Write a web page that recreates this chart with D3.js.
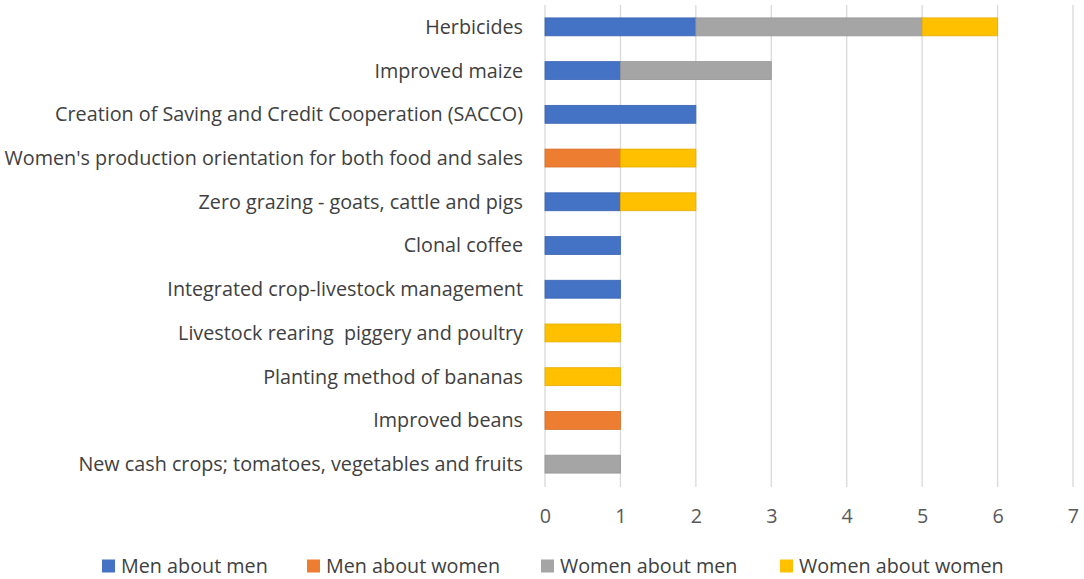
<!DOCTYPE html>
<html><head><meta charset="utf-8">
<script src="https://cdn.jsdelivr.net/npm/d3@7/dist/d3.min.js"></script>
<style>body{margin:0;background:#fff}svg{display:block}text{white-space:pre}</style>
</head><body>
<svg id="c" width="1084" height="579"></svg>
<script>
const categories = [
  "Herbicides",
  "Improved maize",
  "Creation of Saving and Credit Cooperation (SACCO)",
  "Women's production orientation for both food and sales",
  "Zero grazing - goats, cattle and pigs",
  "Clonal coffee",
  "Integrated crop-livestock management",
  "Livestock rearing  piggery and poultry",
  "Planting method of bananas",
  "Improved beans",
  "New cash crops; tomatoes, vegetables and fruits"
];
const seriesNames = ["Men about men","Men about women","Women about men","Women about women"];
const menAboutMen     = [2,1,2,0,1,1,1,0,0,0,0];
const menAboutWomen   = [0,0,0,1,0,0,0,0,0,1,0];
const womenAboutMen   = [3,2,0,0,0,0,0,0,0,0,1];
const womenAboutWomen = [1,0,0,1,1,0,0,1,1,0,0];
const colors = ["#4472C4","#ED7D31","#A5A5A5","#FFC000"];
const borders = ["#3a65b3","#d66d27","#959595","#e6ad00"];
const xTicks = [0,1,2,3,4,5,6,7];

const values = [menAboutMen, menAboutWomen, womenAboutMen, womenAboutWomen];
const table = categories.map((c,i)=>{const o={cat:c}; seriesNames.forEach((s,j)=>o[s]=values[j][i]); return o;});
const stacked = d3.stack().keys(seriesNames)(table);

const svg = d3.select("#c");
const font = "'Open Sans', sans-serif";
const x = d3.scaleLinear().domain([0,7]).range([545,1073]);
const y = d3.scaleBand().domain(categories).range([5,486]).paddingInner(0.59).paddingOuter(0.295);

// fit font size so the longest-reference label matches its width in the reference (445px)
const probe = svg.append("text").attr("font-family",font).attr("font-size",20)
  .text("New cash crops; tomatoes, vegetables and fruits");
const fs = 20 * 445 / probe.node().getComputedTextLength();
probe.remove();

// gridlines
svg.append("g").selectAll("line").data(xTicks).join("line")
  .attr("x1",d=>x(d)).attr("x2",d=>x(d)).attr("y1",5).attr("y2",487)
  .attr("stroke","#d9d9d9").attr("stroke-width",1.3);

// bars
svg.append("g").selectAll("g").data(stacked).join("g")
  .attr("fill",(d,i)=>colors[i]).attr("stroke",(d,i)=>borders[i])
  .selectAll("rect").data(d=>d.filter(p=>p[1]-p[0]>0)).join("rect")
  .attr("x",d=>x(d[0])).attr("width",d=>x(d[1])-x(d[0]))
  .attr("y",d=>y(d.data.cat)).attr("height",y.bandwidth())
  .attr("stroke-width",0.8);

// x axis
const xa = svg.append("g").attr("transform","translate(0,516)")
  .call(d3.axisBottom(x).tickValues(xTicks).tickFormat(d3.format("d")).tickSize(0).tickPadding(0));
xa.select(".domain").remove();
xa.selectAll("text").attr("dy","0.35em").attr("font-family",font).attr("font-size",fs).attr("fill","#595959");

// y labels
svg.append("g").selectAll("text").data(categories).join("text")
  .attr("x",523).attr("y",d=>y(d)+y.bandwidth()/2).attr("dy","0.35em")
  .attr("text-anchor","end").attr("font-family",font).attr("font-size",fs).attr("fill","#404040")
  .text(d=>d);

// legend
const legX = [102,307,541,780];
const lg = svg.append("g").selectAll("g").data(seriesNames).join("g")
  .attr("transform",(d,i)=>`translate(${legX[i]},566)`);
lg.append("rect").attr("x",0).attr("y",-6.5).attr("width",13).attr("height",13).attr("fill",(d,i)=>colors[i]);
lg.append("text").attr("x",19).attr("dy","0.35em").attr("font-family",font).attr("font-size",fs).attr("fill","#404040").text(d=>d);
</script>
</body></html>
